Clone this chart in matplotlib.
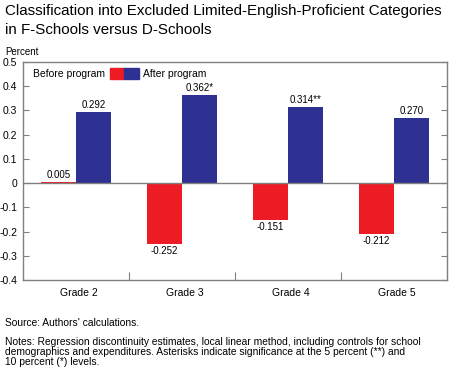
import matplotlib.pyplot as plt
from matplotlib.patches import Rectangle

plt.rcParams['font.family'] = ['Liberation Sans', 'DejaVu Sans']

grados = ['Grade 2', 'Grade 3', 'Grade 4', 'Grade 5']
antes = [0.005, -0.252, -0.151, -0.212]
despues = [0.292, 0.362, 0.314, 0.270]
etiq_antes = ['0.005', '-0.252', '-0.151', '-0.212']
etiq_despues = ['0.292', '0.362*', '0.314**', '0.270']
yticks = [-0.4, -0.3, -0.2, -0.1, 0, 0.1, 0.2, 0.3, 0.4, 0.5]
ytick_labels = ['-0.4', '-0.3', '-0.2', '-0.1', '0', '0.1', '0.2', '0.3', '0.4', '0.5']

rojo = '#ED1C24'
azul = '#2E3192'
gris = '#808080'

fig = plt.figure(figsize=(4.5, 3.72), dpi=100)
ax = fig.add_axes([23 / 450, 1 - 280 / 372, 424 / 450, 218 / 372])

x = list(range(len(grados)))
w = 0.33
ax.bar([i - w / 2 for i in x], antes, w, color=rojo)
ax.bar([i + w / 2 for i in x], despues, w, color=azul)
ax.axhline(0, color=gris, lw=1)

for i in x:
    if antes[i] >= 0:
        ax.text(i - w / 2, antes[i] + 0.008, etiq_antes[i], ha='center', va='bottom', fontsize=7)
    else:
        ax.text(i - w / 2, antes[i] - 0.008, etiq_antes[i], ha='center', va='top', fontsize=7)
    ax.text(i + w / 2, despues[i] + 0.008, etiq_despues[i], ha='center', va='bottom', fontsize=7)

ax.set_xlim(-0.5, 3.5)
ax.set_ylim(-0.4, 0.5)
ax.set_yticks(yticks)
ax.set_yticklabels(ytick_labels, fontsize=7.5)
ax.tick_params(axis='y', direction='in', length=4, right=True, color=gris, pad=4)
ax.set_xticks([0.5, 1.5, 2.5])
ax.set_xticklabels([])
ax.tick_params(axis='x', direction='in', length=6, color=gris)
for s in ax.spines.values():
    s.set_color(gris)
    s.set_linewidth(1)
for i, g in enumerate(grados):
    ax.annotate(g, (i + 0.03, -0.4), xytext=(0, -6), textcoords='offset points',
                ha='center', va='top', fontsize=7.5)

# leyenda a mano, en coordenadas de figura
fig.text(33 / 450, 1 - 74 / 372, 'Before program', ha='left', va='center', fontsize=7.5)
fig.patches.append(Rectangle((110 / 450, 1 - 79 / 372), 14 / 450, 11 / 372,
                             transform=fig.transFigure, color=rojo, figure=fig))
fig.patches.append(Rectangle((124 / 450, 1 - 79 / 372), 15 / 450, 11 / 372,
                             transform=fig.transFigure, color=azul, figure=fig))
fig.text(143 / 450, 1 - 74 / 372, 'After program', ha='left', va='center', fontsize=7.5)

fig.text(5 / 450, 1 - 11 / 372, 'Classification into Excluded Limited-English-Proficient Categories',
         fontsize=10.9, va='center', ha='left')
fig.text(5 / 450, 1 - 30 / 372, 'in F-Schools versus D-Schools', fontsize=10.9, va='center', ha='left')
fig.text(5 / 450, 1 - 52 / 372, 'Percent', fontsize=7, va='center', ha='left')

fig.text(5 / 450, 1 - 323 / 372, "Source: Authors' calculations.", fontsize=7.4, va='center', ha='left')
notas = ['Notes: Regression discontinuity estimates, local linear method, including controls for school',
         'demographics and expenditures. Asterisks indicate significance at the 5 percent (**) and',
         '10 percent (*) levels.']
for k, linea in enumerate(notas):
    fig.text(5 / 450, 1 - (342 + k * 9.8) / 372, linea, fontsize=7.4, va='center', ha='left')

fig.savefig('out.png', dpi=100)
